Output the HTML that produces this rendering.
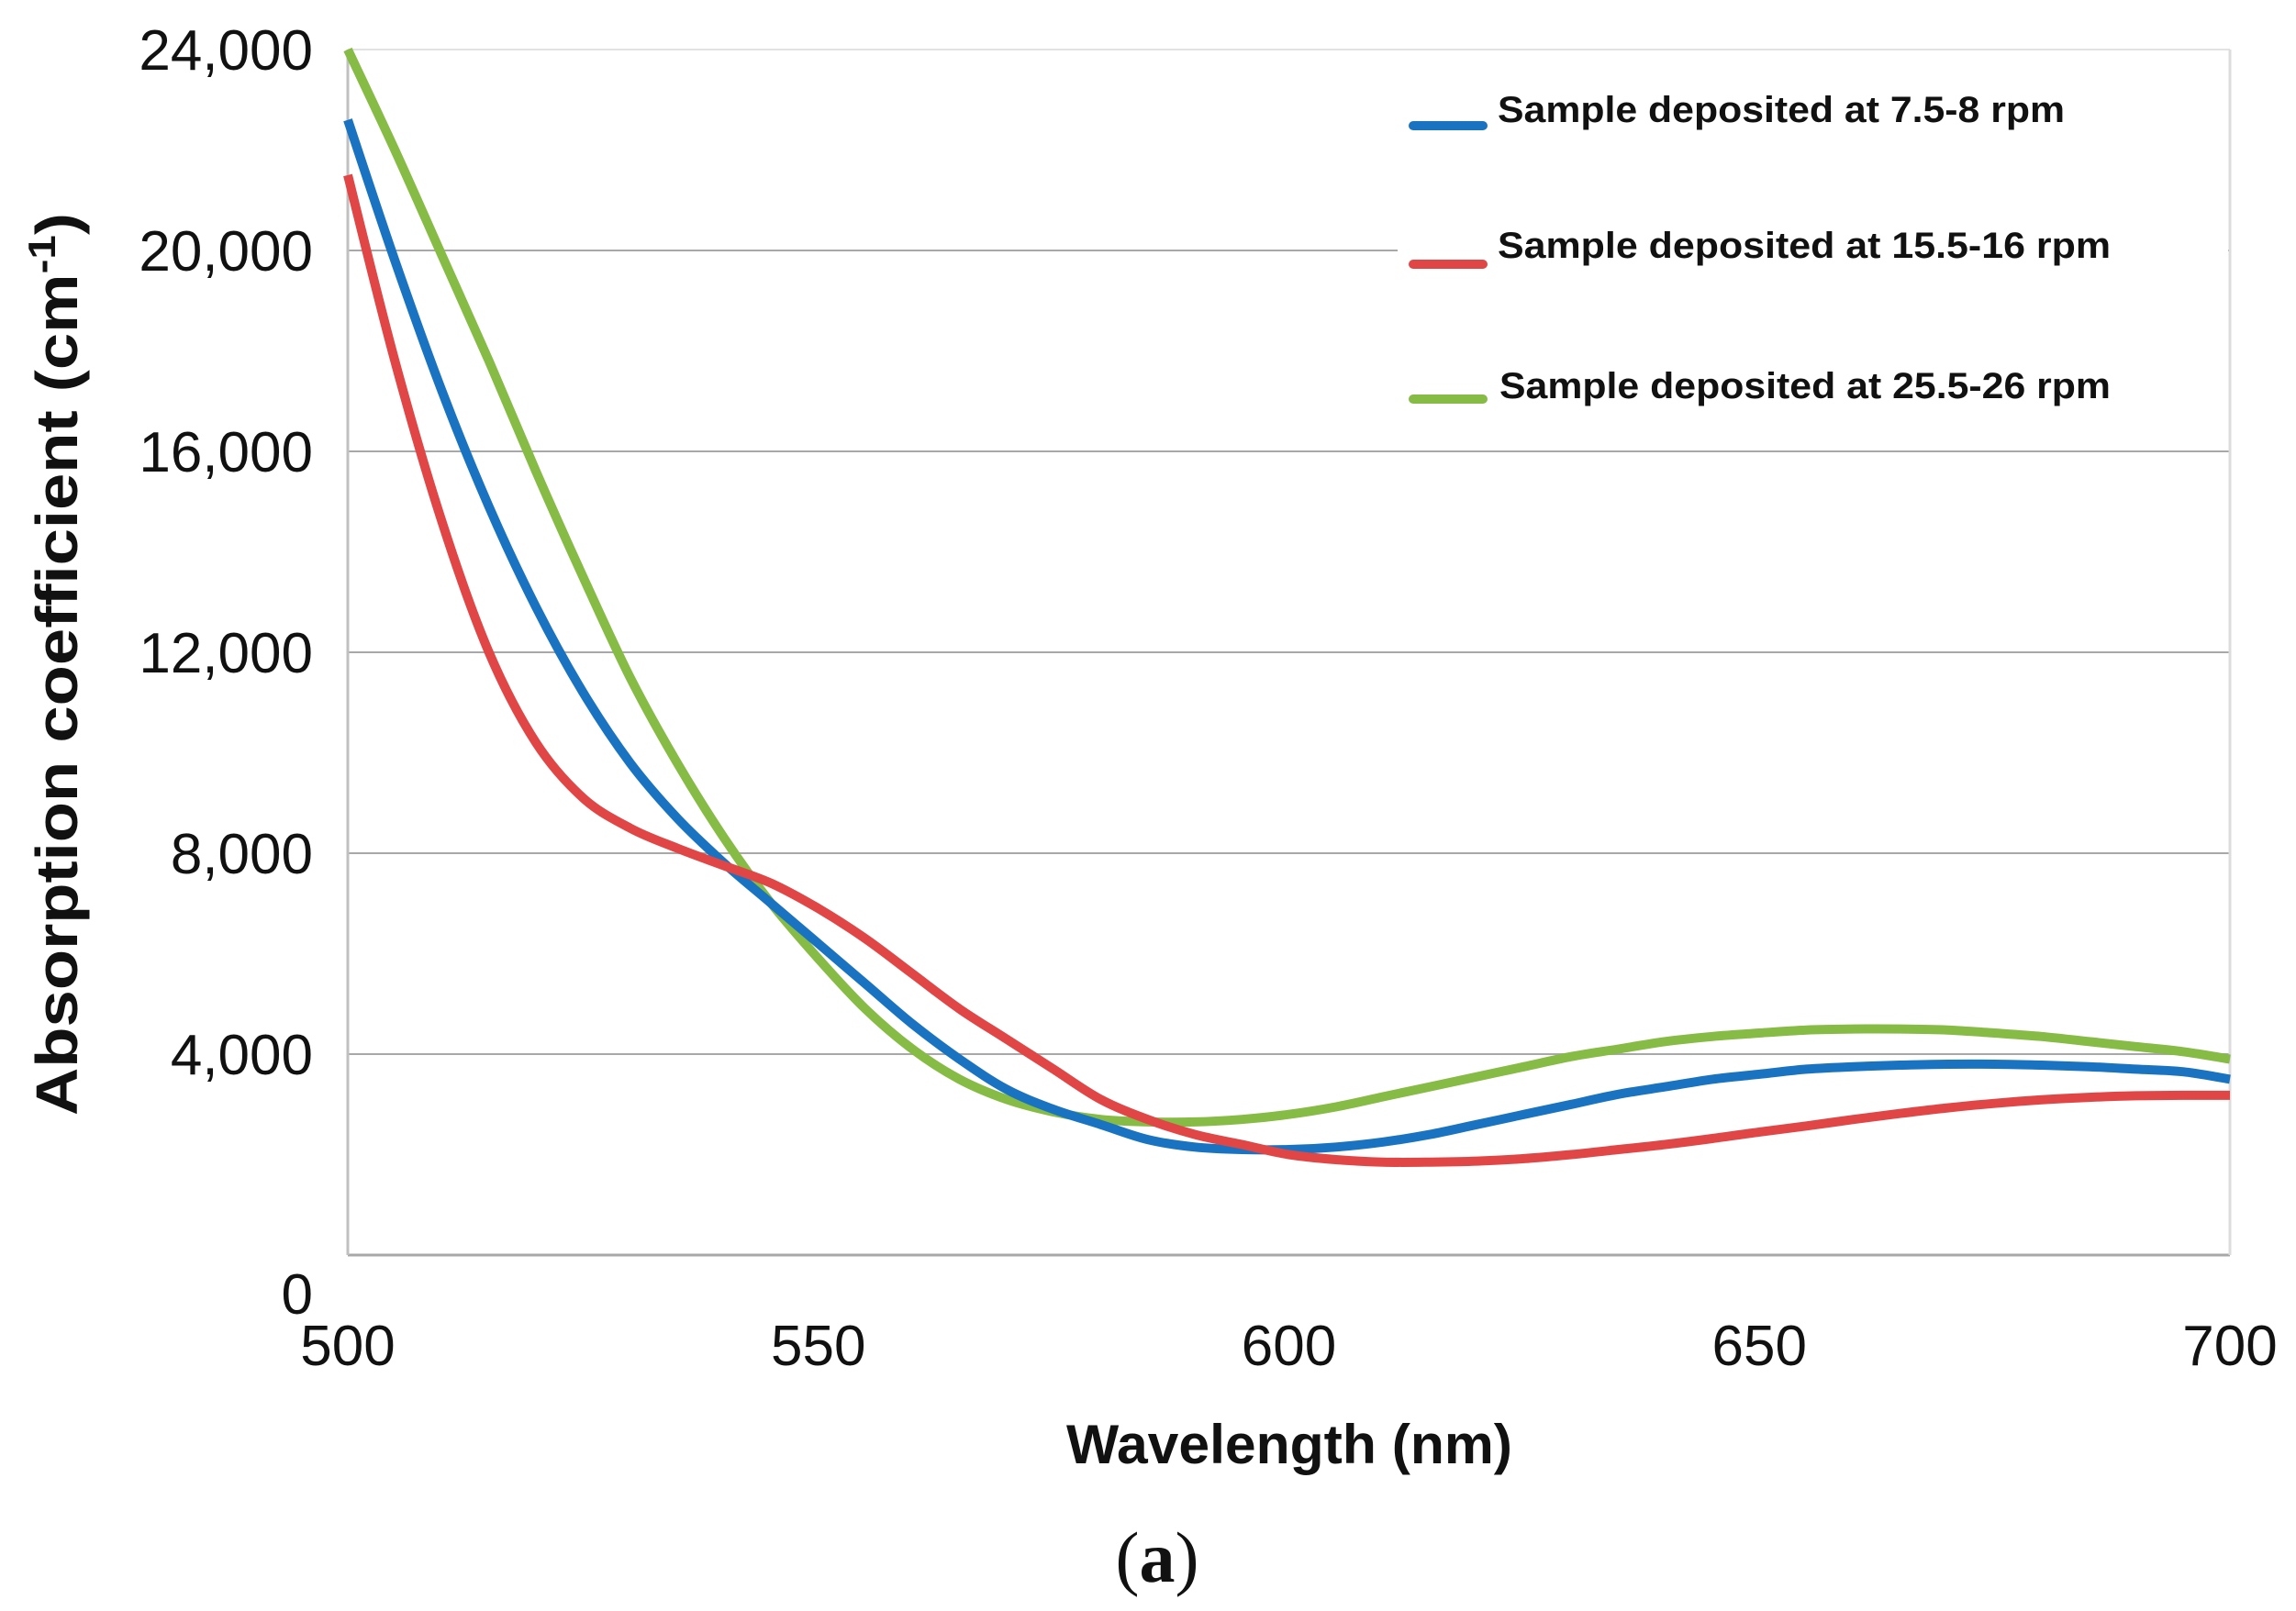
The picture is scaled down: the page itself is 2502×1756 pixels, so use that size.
<!DOCTYPE html>
<html><head><meta charset="utf-8"><style>
html,body{margin:0;padding:0;background:#fff;}
svg{display:block;}
</style></head><body>
<svg id="chart" width="2502" height="1756" viewBox="0 0 2502 1756" xmlns="http://www.w3.org/2000/svg">
<g id="grid"></g>
<g id="series"></g>
<rect x="1523" y="60" width="905" height="428" fill="#fff"/>
<g id="legend" font-family="'Liberation Sans Narrow','Liberation Sans',sans-serif" font-weight="bold" font-size="40" fill="#111">
  <g>
    <line x1="1540" y1="137" x2="1616" y2="137" stroke="#1a73c0" stroke-width="10" stroke-linecap="round"/>
    <text x="1632" y="133" textLength="618" lengthAdjust="spacingAndGlyphs">Sample deposited at 7.5-8 rpm</text>
  </g>
  <g>
    <line x1="1540" y1="288" x2="1616" y2="288" stroke="#e04646" stroke-width="10" stroke-linecap="round"/>
    <text x="1632" y="281" textLength="668" lengthAdjust="spacingAndGlyphs">Sample deposited at 15.5-16 rpm</text>
  </g>
  <g>
    <line x1="1540" y1="435" x2="1616" y2="435" stroke="#86bb45" stroke-width="10" stroke-linecap="round"/>
    <text x="1634" y="434" textLength="666" lengthAdjust="spacingAndGlyphs">Sample deposited at 25.5-26 rpm</text>
  </g>
</g>
<g id="axes" font-family="'Liberation Sans',sans-serif" font-size="62" fill="#111"></g>
<text transform="translate(84,724) rotate(-90)" text-anchor="middle" font-family="'Liberation Sans',sans-serif" font-weight="bold" font-size="64" fill="#111" textLength="984" lengthAdjust="spacingAndGlyphs">Absorption coefficient (cm<tspan font-size="42" dy="-24">-1</tspan><tspan dy="24">)</tspan></text>
<text x="1405" y="1595" text-anchor="middle" font-family="'Liberation Sans',sans-serif" font-weight="bold" font-size="60" fill="#111" textLength="486" lengthAdjust="spacingAndGlyphs">Wavelength (nm)</text>
<text x="1261" y="1724" text-anchor="middle" font-family="'Liberation Serif',serif" font-size="78" fill="#111">(<tspan font-weight="bold">a</tspan>)</text>
</svg>
<script>
const wavelengths = [500,505,510,515,520,525,530,535,540,545,550,555,560,565,570,575,580,585,590,595,600,605,610,615,620,625,630,635,640,645,650,655,660,665,670,675,680,685,690,695,700];
const blueValues = [22600,19800,17200,14900,12900,11200,9800,8700,7800,7000,6200,5400,4600,3900,3300,2900,2600,2300,2150,2100,2100,2150,2250,2400,2600,2800,3000,3200,3350,3500,3600,3700,3750,3780,3800,3800,3780,3750,3700,3650,3500];
const redValues = [21500,17800,14600,12000,10200,9100,8500,8100,7750,7400,6900,6300,5600,4900,4300,3700,3100,2700,2400,2200,2000,1900,1850,1850,1870,1920,2000,2100,2200,2320,2450,2570,2700,2820,2930,3020,3090,3140,3170,3180,3180];
const greenValues = [24000,22000,19900,17800,15600,13500,11500,9800,8300,7000,5900,4900,4100,3500,3100,2850,2700,2650,2650,2700,2800,2950,3150,3350,3550,3750,3950,4100,4250,4350,4420,4480,4500,4500,4480,4420,4350,4250,4150,4050,3900];
const yTicks = [0,4000,8000,12000,16000,20000,24000];
const yTickLabels = ["0","4,000","8,000","12,000","16,000","20,000","24,000"];
const xTicks = [500,550,600,650,700];
const xTickLabels = ["500","550","600","650","700"];

const NS = "http://www.w3.org/2000/svg";
const X0 = 379, X1 = 2430, Y0 = 1368, Y1 = 54;
function xs(v){ return X0 + (v-500)/(700-500)*(X1-X0); }
function ys(v){ return Y0 - (v-0)/(24000-0)*(Y0-Y1); }

const grid = document.getElementById('grid');
yTicks.forEach((t,i)=>{
  const l = document.createElementNS(NS,'line');
  
  
  l.setAttribute('x1',X0); l.setAttribute('x2',X1);
  l.setAttribute('y1',ys(t)); l.setAttribute('y2',ys(t));
  l.setAttribute('stroke', t===24000 ? '#e2e2e2' : '#a8a8a8');
  l.setAttribute('stroke-width', t===0 ? 3 : 2);
  grid.appendChild(l);
});
const vl = document.createElementNS(NS,'line');


vl.setAttribute('x1',X0); vl.setAttribute('x2',X0); vl.setAttribute('y1',Y1); vl.setAttribute('y2',Y0);
vl.setAttribute('stroke','#c0c0c0'); vl.setAttribute('stroke-width','3');
grid.appendChild(vl);
const rl = document.createElementNS(NS,'line');


rl.setAttribute('x1',X1); rl.setAttribute('x2',X1); rl.setAttribute('y1',Y1); rl.setAttribute('y2',Y0);
rl.setAttribute('stroke','#dcdcdc'); rl.setAttribute('stroke-width','3');
grid.appendChild(rl);

function smoothPath(pts){
  let d = 'M'+pts[0][0].toFixed(1)+','+pts[0][1].toFixed(1);
  for(let i=0;i<pts.length-1;i++){
    const p0=pts[Math.max(i-1,0)], p1=pts[i], p2=pts[i+1], p3=pts[Math.min(i+2,pts.length-1)];
    const c1x=p1[0]+(p2[0]-p0[0])/6, c1y=p1[1]+(p2[1]-p0[1])/6;
    const c2x=p2[0]-(p3[0]-p1[0])/6, c2y=p2[1]-(p3[1]-p1[1])/6;
    d+=' C'+c1x.toFixed(1)+','+c1y.toFixed(1)+' '+c2x.toFixed(1)+','+c2y.toFixed(1)+' '+p2[0].toFixed(1)+','+p2[1].toFixed(1);
  }
  return d;
}

const series = document.getElementById('series');
[["green",greenValues,"#86bb45"],["blue",blueValues,"#1a73c0"],["red",redValues,"#e04646"]].forEach(([n,vals,c])=>{
  const p = document.createElementNS(NS,'path');
  
  
  p.setAttribute('d', smoothPath(wavelengths.map((w,i)=>[xs(w), ys(vals[i])])));
  p.setAttribute('fill','none'); p.setAttribute('stroke',c); p.setAttribute('stroke-width','10');
  p.setAttribute('stroke-linejoin','round');
  series.appendChild(p);
});
const axes = document.getElementById('axes');
yTicks.forEach((t,i)=>{
  const tx = document.createElementNS(NS,'text');
  
  
  tx.setAttribute('x',341);
  tx.setAttribute('y', t===0 ? 1432 : ys(t)+22);
  tx.setAttribute('text-anchor','end');
  tx.textContent = yTickLabels[i];
  axes.appendChild(tx);
});
xTicks.forEach((t,i)=>{
  const tx = document.createElementNS(NS,'text');
  
  
  tx.setAttribute('x',xs(t));
  tx.setAttribute('y',1488);
  tx.setAttribute('text-anchor','middle');
  tx.textContent = xTickLabels[i];
  axes.appendChild(tx);
});
</script>
</body></html>
